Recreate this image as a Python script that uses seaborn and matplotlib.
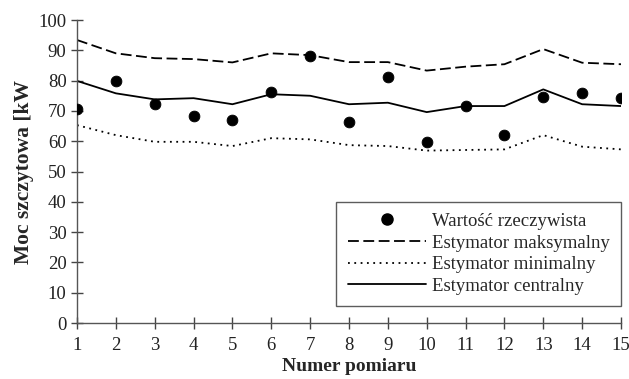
import numpy as np
import pandas as pd
import seaborn as sns
import matplotlib.pyplot as plt
from matplotlib.lines import Line2D

pomiar = list(range(1, 16))
rzeczywista = [70.6, 79.9, 72.3, 68.4, 67.0, 76.2, 88.1, 66.2, 81.3, 59.8, 71.6, 62.0, 74.7, 75.8, 74.2]
maksymalny = [93.4, 89.0, 87.4, 87.1, 86.0, 89.0, 88.4, 86.1, 86.1, 83.3, 84.6, 85.4, 90.4, 85.9, 85.4]
minimalny = [65.3, 62.0, 59.8, 59.8, 58.4, 61.0, 60.6, 58.7, 58.4, 56.9, 57.1, 57.3, 62.0, 58.2, 57.3]
centralny = [79.9, 75.8, 73.8, 74.2, 72.2, 75.5, 75.0, 72.2, 72.7, 69.6, 71.6, 71.6, 77.1, 72.2, 71.6]

df = pd.DataFrame({'pomiar': pomiar, 'rz': rzeczywista, 'max': maksymalny,
                   'min': minimalny, 'cen': centralny})

sns.set_style('white', {'xtick.bottom': True, 'ytick.left': True})
plt.rcParams['font.family'] = ['Liberation Serif', 'DejaVu Serif']

fig = plt.figure(figsize=(6.29, 3.79), dpi=100)
ax = fig.add_axes([77 / 629, 1 - 323 / 379, 544 / 629, 303 / 379])

dash_max = (6, 2.5)
dash_min = (1, 2.5)
sns.lineplot(data=df, x='pomiar', y='max', ax=ax, color='black', lw=1.3)
ax.lines[-1].set_dashes(dash_max)
sns.lineplot(data=df, x='pomiar', y='min', ax=ax, color='black', lw=1.3)
ax.lines[-1].set_dashes(dash_min)
sns.lineplot(data=df, x='pomiar', y='cen', ax=ax, color='black', lw=1.3)
sns.scatterplot(data=df, x='pomiar', y='rz', ax=ax, color='black', s=60, edgecolor='black', zorder=5)

ax.set_xlim(1, 15)
ax.set_ylim(0, 100)
ax.set_xticks(pomiar)
ax.set_yticks(range(0, 101, 10))
ax.tick_params(axis='both', direction='inout', length=8, width=1, color='#444444',
               labelsize=13.5, labelcolor='#222222')
ax.tick_params(axis='x', pad=6)
for s in ['top', 'right']:
    ax.spines[s].set_visible(False)
for s in ['left', 'bottom']:
    ax.spines[s].set_color('#555555')
    ax.spines[s].set_linewidth(1)

ax.set_xlabel('Numer pomiaru', fontsize=14, fontweight='bold', labelpad=3)
ax.set_ylabel('Moc szczytowa [kW', fontsize=15.5, fontweight='bold', labelpad=3)

handles = [
    Line2D([], [], ls='none', marker='o', color='black', markersize=8),
    Line2D([], [], color='black', lw=1.3, dashes=dash_max),
    Line2D([], [], color='black', lw=1.3, dashes=dash_min),
    Line2D([], [], color='black', lw=1.3),
]
labels = ['Wartość rzeczywista', 'Estymator maksymalny', 'Estymator minimalny', 'Estymator centralny']
leg = ax.legend(handles, labels, loc='lower right', bbox_to_anchor=(1.0, 0.056),
                borderaxespad=0, fontsize=13.5, frameon=True, fancybox=False,
                handlelength=4.2, handletextpad=0.3, borderpad=0.6, labelspacing=0.24)
leg.get_frame().set_edgecolor('#333333')
leg.get_frame().set_linewidth(1)

fig.savefig('out.png', dpi=100)
